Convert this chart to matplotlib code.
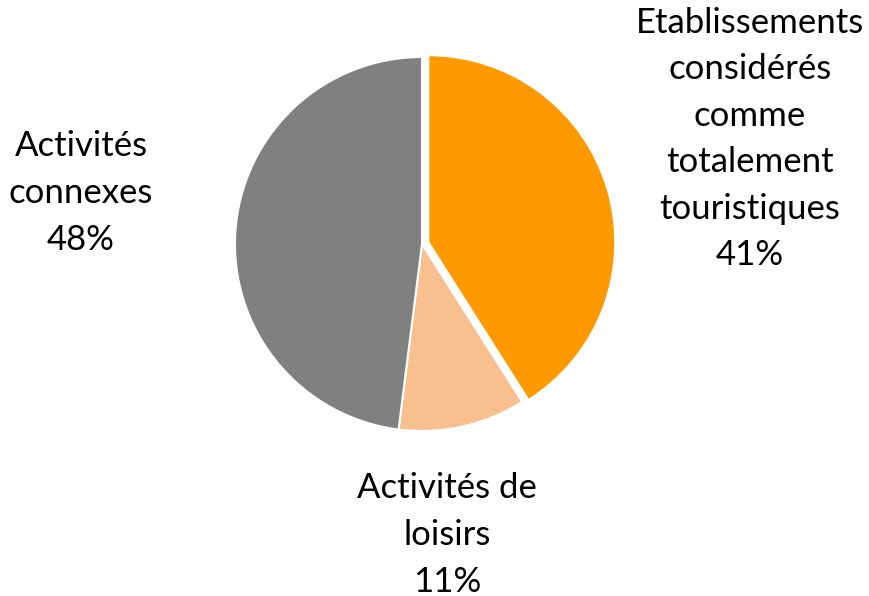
import matplotlib
matplotlib.use("Agg")
import matplotlib.pyplot as plt

categories = ["Etablissements\nconsidérés\ncomme\ntotalement\ntouristiques", "Activités de\nloisirs", "Activités\nconnexes"]
values = [41, 11, 48]
colors = ["#FF9900", "#F9C08F", "#808080"]
explode = [0.035, 0, 0]

W, H = 869, 596
fig = plt.figure(figsize=(W/100, H/100), dpi=100)
cx, cy, r = 422, 244, 187
half = r * 1.1
ax = fig.add_axes([(cx - half)/W, (H - cy - half)/H, 2*half/W, 2*half/H])
ax.pie(values, colors=colors, explode=explode, startangle=90, counterclock=False,
       wedgeprops=dict(edgecolor="white", linewidth=1.5))
ax.set_xlim(-1.1, 1.1)
ax.set_ylim(-1.1, 1.1)
ax.set_aspect("equal")
ax.axis("off")

font = dict(family=["Lato", "DejaVu Sans"], fontsize=25, ha="center", va="center", linespacing=1.56, color="black")
label_pos = [(750, 139), (447, 535), (81, 193)]
for cat, v, (x, y) in zip(categories, values, label_pos):
    fig.text(x/W, 1 - y/H, f"{cat}\n{v}%", **font)

fig.savefig("out.png", dpi=100)
